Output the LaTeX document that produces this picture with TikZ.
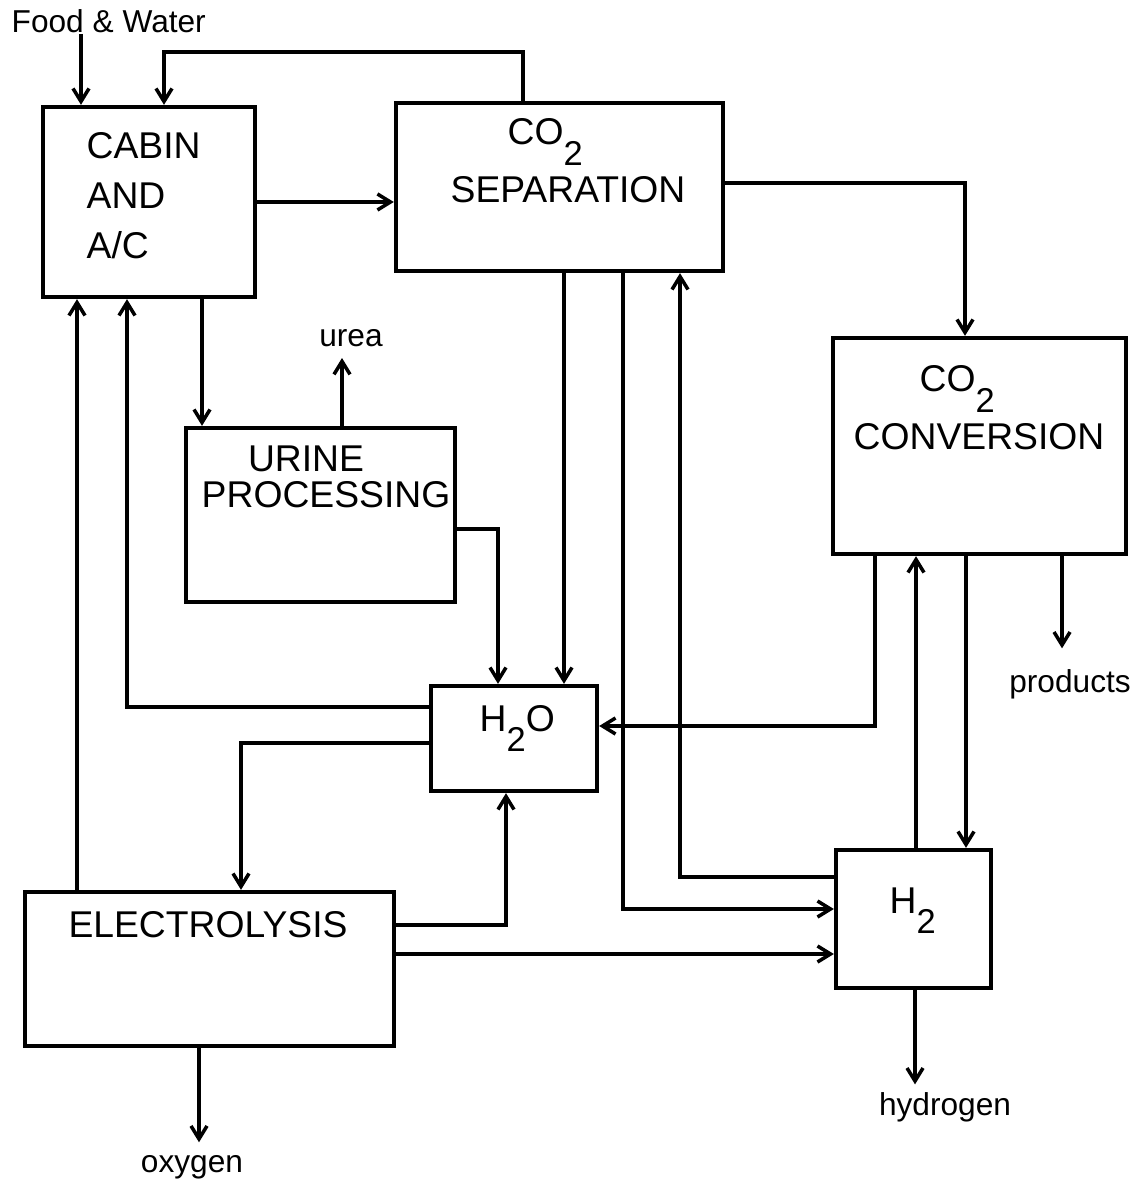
\documentclass[tikz,border=0pt]{standalone}
\usepackage{fontspec}
\setmainfont{Liberation Sans}
\usepackage{tikz}
\usetikzlibrary{arrows.meta}
\usetikzlibrary{positioning}

\newcommand{\lowsub}[1]{\raisebox{-2mm}{\fontsize{9.8}{10}\selectfont #1}}

\begin{document}
\begin{tikzpicture}[x=0.01cm, y=-0.01cm, box/.style={draw, line width=1.2pt, inner sep=0pt}, txt/.style={inner sep=0pt, font=\fontsize{10.6}{14.2}\selectfont}, lbl/.style={inner sep=0pt, font=\fontsize{9}{10}\selectfont}, arrow/.style={line width=1pt, -{Straight Barb[length=1.3mm, width=1.6mm, line width=1pt]}}]
\path[use as bounding box, fill=white] (0,0) rectangle (1140,1183);
% boxes
\node [box, minimum width=2.12cm, minimum height=1.90cm] (cabin) at (149,202) {};
\node [box, minimum width=3.27cm, minimum height=1.68cm] (sep) at (559.5,187) {};
\node [box, minimum width=2.93cm, minimum height=2.16cm] (conv) at (979.5,446) {};
\node [box, minimum width=2.69cm, minimum height=1.74cm] (urine) at (320.5,515) {};
\node [box, minimum width=1.66cm, minimum height=1.05cm] (water) at (514,738.5) {};
\node [box, minimum width=3.69cm, minimum height=1.54cm] (elec) at (209.5,969) {};
\node [box, minimum width=1.55cm, minimum height=1.38cm] (hyd) at (913.5,919) {};
% box texts
\node [txt, align=left, anchor=north west] (cabintxt) at (86,132) {CABIN\\AND\\A/C};
\node [txt, anchor=base west] (sepco) at (507,145) {CO\lowsub{2}};
\node [txt, anchor=base] (septxt) at (568,203) {SEPARATION};
\node [txt, anchor=base west] (convco) at (919,392) {CO\lowsub{2}};
\node [txt, anchor=base] (convtxt) at (979,450) {CONVERSION};
\node [txt, anchor=base] (urinea) at (306,472) {URINE};
\node [txt, anchor=base] (urineb) at (326,508) {PROCESSING};
\node [txt, anchor=base west] (watertxt) at (479,731) {H\lowsub{2}O};
\node [txt, anchor=base] (electxt) at (208,937) {ELECTROLYSIS};
\node [txt, anchor=base west] (hydtxt) at (889,913) {H\lowsub{2}};
% outside labels
\node [lbl, anchor=base west] (food) at (11,33) {Food \& Water};
\node [lbl, anchor=base] (urea) at (351,347) {urea};
\node [lbl, anchor=base] (products) at (1070,692) {products};
\node [lbl, anchor=base] (hydrogen) at (945,1115) {hydrogen};
\node [lbl, anchor=base] (oxygen) at (192,1172) {oxygen};
% connectors
\draw [arrow] (food.south -| 81,0) -- (cabin.north -| 81,0);
\draw [arrow] (sep.north -| 523,0) |- (164,52) -- (cabin.north -| 164,0);
\draw [arrow] (cabin.east |- 0,202) -- (sep.west |- 0,202);
\draw [arrow] (sep.east |- 0,183) -| (conv.north -| 965,0);
\draw [arrow] (cabin.south -| 202,0) -- (urine.north -| 202,0);
\draw [arrow, shorten >=1mm] (urine.north -| 342,0) -- (urea.south -| 342,0);
\draw [arrow] (urine.east |- 0,529) -| (water.north -| 498,0);
\draw [arrow] (sep.south -| 564,0) -- (water.north -| 564,0);
\draw [arrow] (water.west |- 0,707) -| (cabin.south -| 127,0);
\draw [arrow] (water.west |- 0,743) -| (elec.north -| 241,0);
\draw [arrow] (elec.north -| 77,0) -- (cabin.south -| 77,0);
\draw [arrow] (elec.east |- 0,925) -| (water.south -| 506,0);
\draw [arrow] (elec.east |- 0,954) -- (hyd.west |- 0,954);
\draw [arrow] (sep.south -| 623,0) |- (hyd.west |- 0,909);
\draw [arrow] (hyd.west |- 0,877) -| (sep.south -| 680,0);
\draw [arrow] (conv.south -| 875,0) |- (water.east |- 0,726);
\draw [arrow] (hyd.north -| 916,0) -- (conv.south -| 916,0);
\draw [arrow] (conv.south -| 966,0) -- (hyd.north -| 966,0);
\draw [arrow, shorten >=2mm] (conv.south -| 1062,0) -- (products.north -| 1062,0);
\draw [arrow, shorten >=0.7mm] (hyd.south -| 915,0) -- (hydrogen.north -| 915,0);
\draw [arrow, shorten >=1.2mm] (elec.south -| 199,0) -- (oxygen.north -| 199,0);
\end{tikzpicture}
\end{document}
